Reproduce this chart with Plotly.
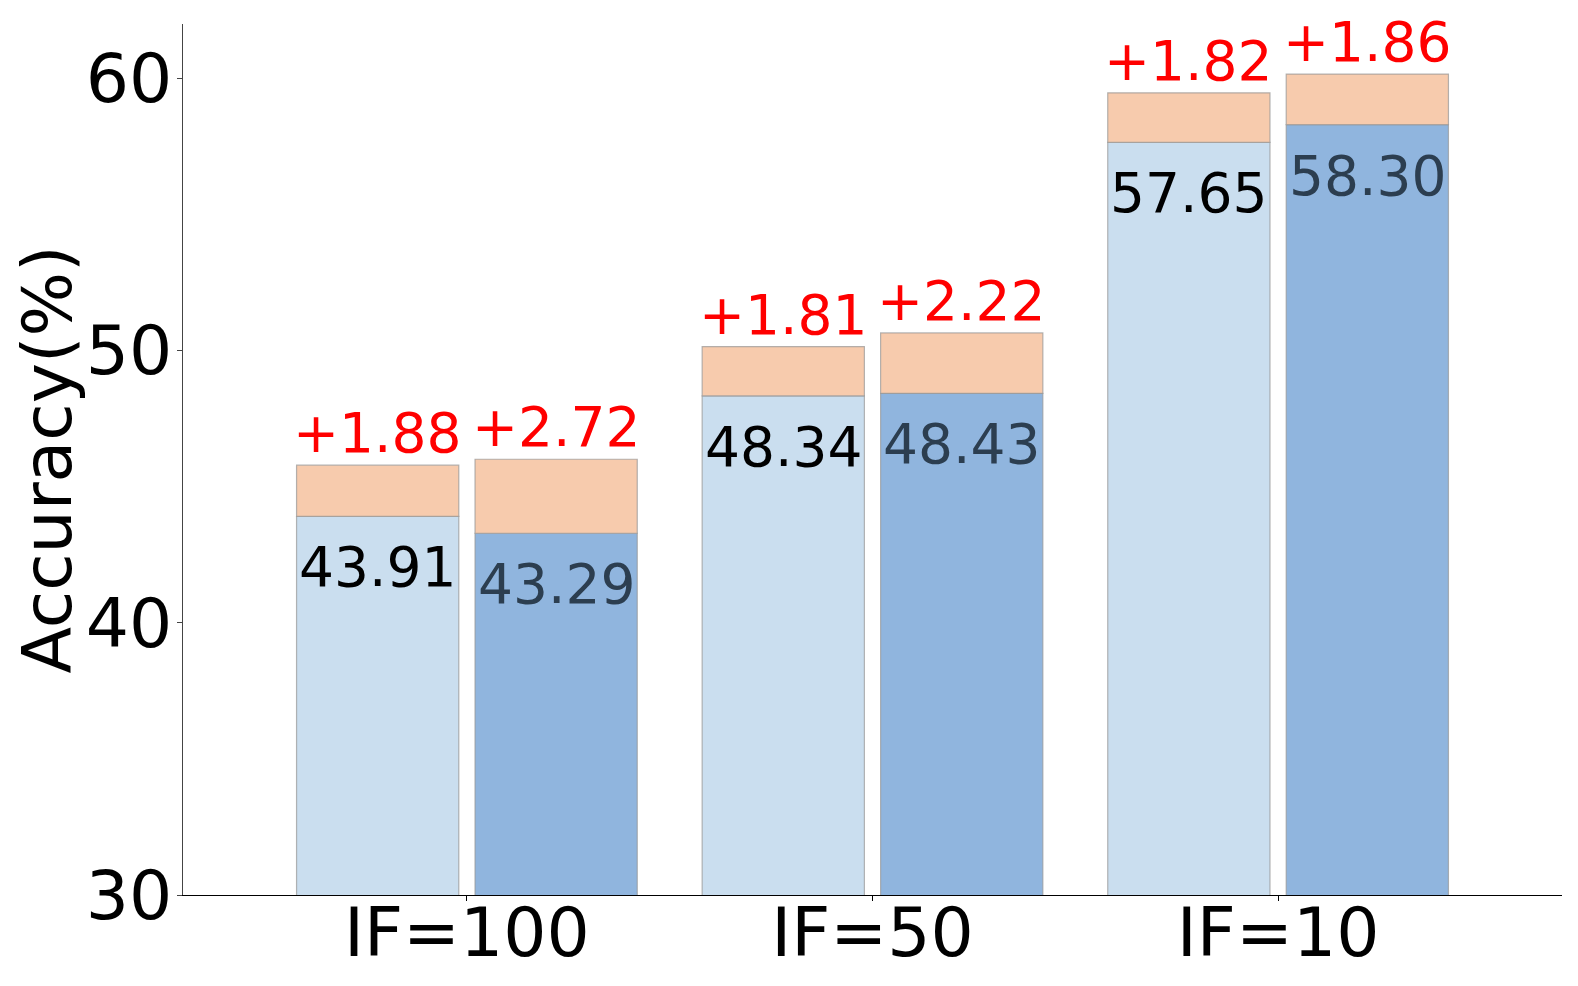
import plotly.graph_objects as go

categories = ["IF=100", "IF=50", "IF=10"]
base_a = [43.91, 48.34, 57.65]
gain_a = [1.88, 1.81, 1.82]
base_b = [43.29, 48.43, 58.30]
gain_b = [2.72, 2.22, 1.86]

pos = list(range(len(categories)))
W = 0.4
OFF_A = -0.42
OFF_B = 0.02
LIGHT = "#cadeef"
DARK = "#90b5de"
ORANGE = "#f7cbad"
EDGE = "rgba(150,150,150,0.7)"
FONT = "DejaVu Sans"

fig = go.Figure()
for base, gain, off, col in [(base_a, gain_a, OFF_A, LIGHT), (base_b, gain_b, OFF_B, DARK)]:
    fig.add_trace(go.Bar(x=pos, y=base, width=W, offset=off, marker=dict(color=col, line=dict(color=EDGE, width=1.2)), showlegend=False))
    fig.add_trace(go.Bar(x=pos, y=gain, base=base, width=W, offset=off, marker=dict(color=ORANGE, line=dict(color=EDGE, width=1.2)), showlegend=False))

annotations = []
for base, gain, off, tcol in [(base_a, gain_a, OFF_A, "black"), (base_b, gain_b, OFF_B, "#2c3e50")]:
    for i, (b, g) in enumerate(zip(base, gain)):
        xc = pos[i] + off + W / 2
        annotations.append(dict(x=xc, y=b, text=f"{b:.2f}", showarrow=False, yanchor="middle", yshift=-51,
                                font=dict(family=FONT, size=55, color=tcol)))
        annotations.append(dict(x=xc, y=b + g, text=f"+{g:.2f}", showarrow=False, yanchor="middle", yshift=32,
                                font=dict(family=FONT, size=55, color="red")))

fig.update_layout(
    width=1570, height=978,
    margin=dict(l=175, r=16, t=16, b=91),
    plot_bgcolor="white", paper_bgcolor="white",
    barmode="overlay",
    annotations=annotations,
    font=dict(family=FONT, color="black"),
)
fig.update_xaxes(range=[-0.70, 2.70], tickvals=pos, ticktext=categories, showline=True, linecolor="black", linewidth=1.3,
                 ticks="outside", ticklen=5, tickcolor="black", tickfont=dict(size=68, family=FONT), showgrid=False, zeroline=False,
                 automargin=False, ticklabelstandoff=-27)
fig.update_yaxes(range=[30, 62], tickvals=[30, 40, 50, 60], showline=True, linecolor="#444", linewidth=1.3,
                 ticks="outside", ticklen=5, tickcolor="#444", tickfont=dict(size=68, family=FONT), showgrid=False, zeroline=False,
                 automargin=False, ticklabelstandoff=-9,
                 title=dict(text="Accuracy(%)", font=dict(size=68, family=FONT), standoff=2))

fig.write_html("out.html")
